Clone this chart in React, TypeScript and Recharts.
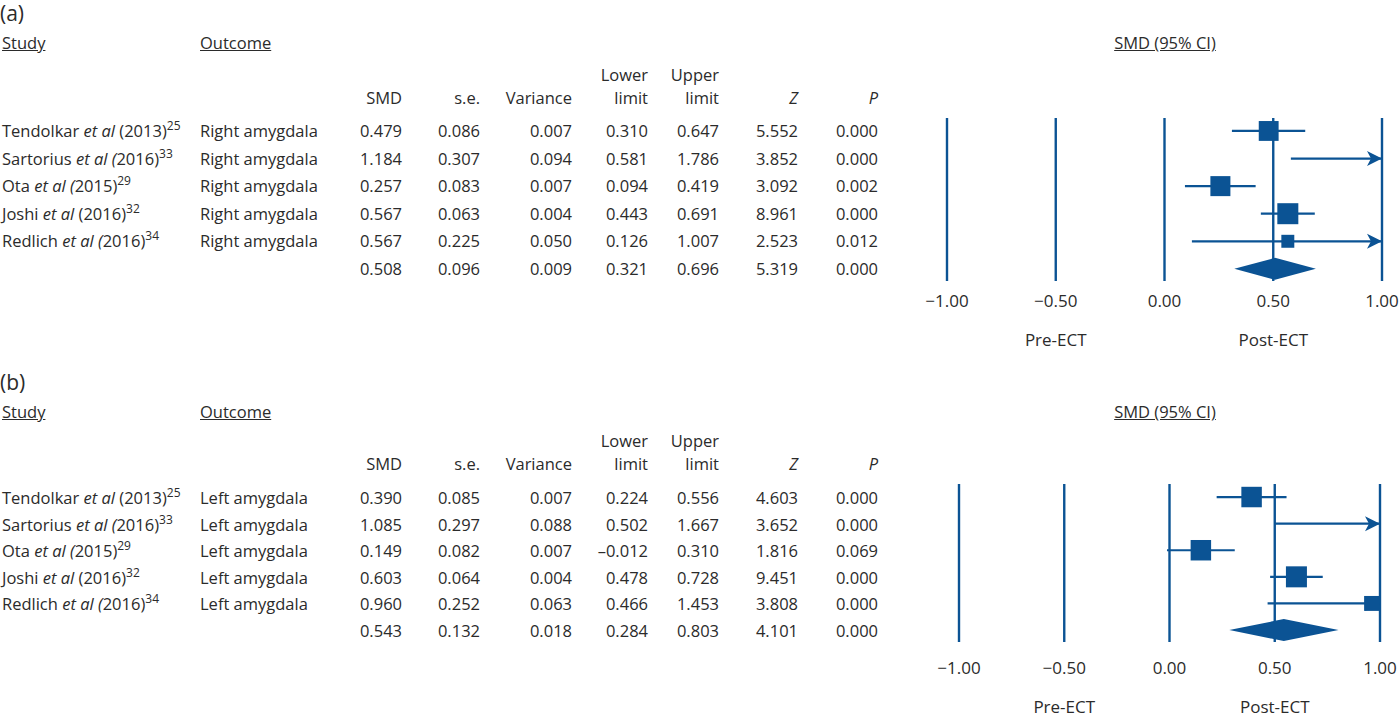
import React from 'react';
import { ScatterChart, Scatter, XAxis, YAxis, CartesianGrid } from 'recharts';

const BLUE = '#0b5394';
const INK = '#2b2b2b';

// study labels (shared by both panels)
const studies = ['Tendolkar', 'Sartorius', 'Ota', 'Joshi', 'Redlich'];
const years = ['2013', '2016', '2015', '2016', '2016'];
const refs = ['25', '33', '29', '32', '34'];
const italicParen = [false, true, true, false, true];

// (a) right amygdala – last entry is the pooled estimate
const outcomeA = 'Right amygdala';
const smdA = [0.479, 1.184, 0.257, 0.567, 0.567, 0.508];
const seA = [0.086, 0.307, 0.083, 0.063, 0.225, 0.096];
const varA = [0.007, 0.094, 0.007, 0.004, 0.05, 0.009];
const lowerA = [0.31, 0.581, 0.094, 0.443, 0.126, 0.321];
const upperA = [0.647, 1.786, 0.419, 0.691, 1.007, 0.696];
const zA = [5.552, 3.852, 3.092, 8.961, 2.523, 5.319];
const pA = [0.0, 0.0, 0.002, 0.0, 0.012, 0.0];
const weightA = [26.1, 7.1, 26.5, 29.2, 11.1];

// (b) left amygdala
const outcomeB = 'Left amygdala';
const smdB = [0.39, 1.085, 0.149, 0.603, 0.96, 0.543];
const seB = [0.085, 0.297, 0.082, 0.064, 0.252, 0.132];
const varB = [0.007, 0.088, 0.007, 0.004, 0.063, 0.018];
const lowerB = [0.224, 0.502, -0.012, 0.478, 0.466, 0.284];
const upperB = [0.556, 1.667, 0.31, 0.728, 1.453, 0.803];
const zB = [4.603, 3.652, 1.816, 9.451, 3.808, 4.101];
const pB = [0.0, 0.0, 0.069, 0.0, 0.0, 0.0];
const weightB = [24.8, 11.0, 24.8, 26.1, 13.2];

const xTicks = [-1, -0.5, 0, 0.5, 1];
const sideTicks = [-0.5, 0.5];
const sideLabels = ['Pre-ECT', 'Post-ECT'];

const colRight = [402, 480, 572, 648, 719, 798, 878];

const fmt3 = (v: number) => (v < 0 ? '\u2013' : '') + Math.abs(v).toFixed(3);
const fmt2 = (v: number) => (v < 0 ? '\u2212' : '') + Math.abs(v).toFixed(2);

function T({ x, y, right, children, style }: any) {
  const base: React.CSSProperties = {
    position: 'absolute',
    top: y - 11,
    lineHeight: '22px',
    whiteSpace: 'nowrap',
    ...style,
  };
  if (right) {
    return <div style={{ ...base, left: x - 160, width: 160, textAlign: 'right' }}>{children}</div>;
  }
  return <div style={{ ...base, left: x }}>{children}</div>;
}

function StudyName({ i }: { i: number }) {
  return (
    <>
      {studies[i]} <i>et al</i> {italicParen[i] ? <i>(</i> : '('}
      {years[i]})
      <span style={{ fontSize: 12, position: 'relative', top: -7 }}>{refs[i]}</span>
    </>
  );
}

function Table({ tag, outcome, cols, lay }: any) {
  const heads = ['SMD', 's.e.', 'Variance', ['Lower', 'limit'], ['Upper', 'limit'], 'Z', 'P'];
  return (
    <>
      <T x={0} y={lay.tagY} style={{ fontSize: 21 }}>{tag}</T>
      <T x={2} y={lay.headY} style={{ textDecoration: 'underline' }}>Study</T>
      <T x={200} y={lay.headY} style={{ textDecoration: 'underline' }}>Outcome</T>
      <T x={1165} y={lay.headY} style={{ textDecoration: 'underline', transform: 'translateX(-50%)' }}>
        SMD (95% CI)
      </T>
      {heads.map((h, c) =>
        Array.isArray(h) ? (
          <React.Fragment key={c}>
            <T x={colRight[c]} y={lay.head1Y} right>{h[0]}</T>
            <T x={colRight[c]} y={lay.head2Y} right>{h[1]}</T>
          </React.Fragment>
        ) : (
          <T key={c} x={colRight[c]} y={lay.head2Y} right style={{ fontStyle: c >= 5 ? 'italic' : 'normal' }}>
            {h}
          </T>
        )
      )}
      {cols[0].map((_: number, r: number) => {
        const y = lay.rowY + r * lay.step;
        return (
          <React.Fragment key={r}>
            {r < studies.length && (
              <>
                <T x={2} y={y}><StudyName i={r} /></T>
                <T x={200} y={y}>{outcome}</T>
              </>
            )}
            {cols.map((col: number[], c: number) => (
              <T key={c} x={colRight[c]} y={y} right>{fmt3(col[r])}</T>
            ))}
          </React.Fragment>
        );
      })}
    </>
  );
}

// numeric tick plus the Pre-/Post-ECT caption under -0.5 and 0.5
function AxisTick({ x, y, payload }: any) {
  const v = payload.value;
  const k = sideTicks.indexOf(v);
  return (
    <g>
      <text x={x} y={y + 12} textAnchor="middle" fill={INK} fontSize={17}>
        {fmt2(v)}
      </text>
      {k >= 0 && (
        <text x={x} y={y + 51} textAnchor="middle" fill={INK} fontSize={17}>
          {sideLabels[k]}
        </text>
      )}
    </g>
  );
}

function Forest({ smd, lower, upper, weight, box }: any) {
  const n = smd.length - 1;
  const maxW = Math.max(...weight);
  const ci = smd.slice(0, n).map((_: number, i: number) => [
    { x: lower[i], y: i, arrow: false },
    { x: Math.min(upper[i], 1), y: i, arrow: upper[i] > 1 },
  ]);
  const pts = smd.slice(0, n).map((v: number, i: number) => ({
    x: v,
    y: i,
    side: 21 * Math.sqrt(weight[i] / maxW),
  }));
  const pooled = [
    { x: lower[n], y: n },
    { x: smd[n], y: n },
    { x: upper[n], y: n },
  ];
  return (
    <div style={{ position: 'absolute', left: box.left, top: box.top }}>
      <ScatterChart width={500} height={box.height} margin={box.margin}>
        <CartesianGrid horizontal={false} stroke={BLUE} strokeWidth={2.4} />
        <XAxis
          type="number"
          dataKey="x"
          domain={[-1, 1]}
          ticks={xTicks}
          allowDataOverflow
          axisLine={false}
          tickLine={false}
          tickMargin={box.tickMargin}
          height={box.axisHeight}
          interval={0}
          tick={<AxisTick />}
        />
        <YAxis type="number" dataKey="y" domain={box.yDomain} reversed hide />
        {ci.map((seg: any, i: number) => (
          <Scatter
            key={'ci' + i}
            data={seg}
            isAnimationActive={false}
            line={{ stroke: BLUE, strokeWidth: 2.2 }}
            shape={(p: any) =>
              p.payload && p.payload.arrow ? (
                <polygon
                  points={`${p.cx},${p.cy} ${p.cx - 15},${p.cy - 7.5} ${p.cx - 11},${p.cy} ${p.cx - 15},${p.cy + 7.5}`}
                  fill={BLUE}
                />
              ) : (
                <g />
              )
            }
          />
        ))}
        <Scatter
          data={pts}
          isAnimationActive={false}
          shape={(p: any) => {
            const s = p.payload.side;
            return <rect x={p.cx - s / 2} y={p.cy - s / 2} width={s} height={s} fill={BLUE} />;
          }}
        />
        <Scatter
          data={pooled}
          isAnimationActive={false}
          shape={() => <g />}
          line={(p: any) => {
            const [a, m, b] = p.points;
            const h = 11;
            return (
              <polygon
                points={`${a.x},${a.y} ${m.x},${m.y - h} ${b.x},${b.y} ${m.x},${m.y + h}`}
                fill={BLUE}
              />
            );
          }}
        />
      </ScatterChart>
    </div>
  );
}

export default function App() {
  const colsA = [smdA, seA, varA, lowerA, upperA, zA, pA];
  const colsB = [smdB, seB, varB, lowerB, upperB, zB, pB];
  return (
    <div
      style={{
        position: 'absolute',
        left: 0,
        top: 0,
        width: 1400,
        height: 717,
        overflow: 'hidden',
        background: '#fff',
        color: INK,
        fontFamily: '"Open Sans", sans-serif',
        fontSize: 16.5,
      }}
    >
      <Table
        tag="(a)"
        outcome={outcomeA}
        cols={colsA}
        lay={{ tagY: 13, headY: 43, head1Y: 75, head2Y: 98, rowY: 131, step: 27.6 }}
      />
      <Forest
        smd={smdA}
        lower={lowerA}
        upper={upperA}
        weight={weightA}
        box={{
          left: 900,
          top: 100,
          height: 261,
          axisHeight: 80,
          margin: { top: 18, right: 18, left: 47, bottom: 0 },
          yDomain: [-0.47, 5.44],
          tickMargin: 8,
        }}
      />
      <Table
        tag="(b)"
        outcome={outcomeB}
        cols={colsB}
        lay={{ tagY: 382, headY: 412, head1Y: 441, head2Y: 464, rowY: 498, step: 26.5 }}
      />
      <Forest
        smd={smdB}
        lower={lowerB}
        upper={upperB}
        weight={weightB}
        box={{
          left: 900,
          top: 466,
          height: 251,
          axisHeight: 75,
          margin: { top: 18, right: 20, left: 59, bottom: 0 },
          yDomain: [-0.49, 5.45],
          tickMargin: 14,
        }}
      />
    </div>
  );
}
